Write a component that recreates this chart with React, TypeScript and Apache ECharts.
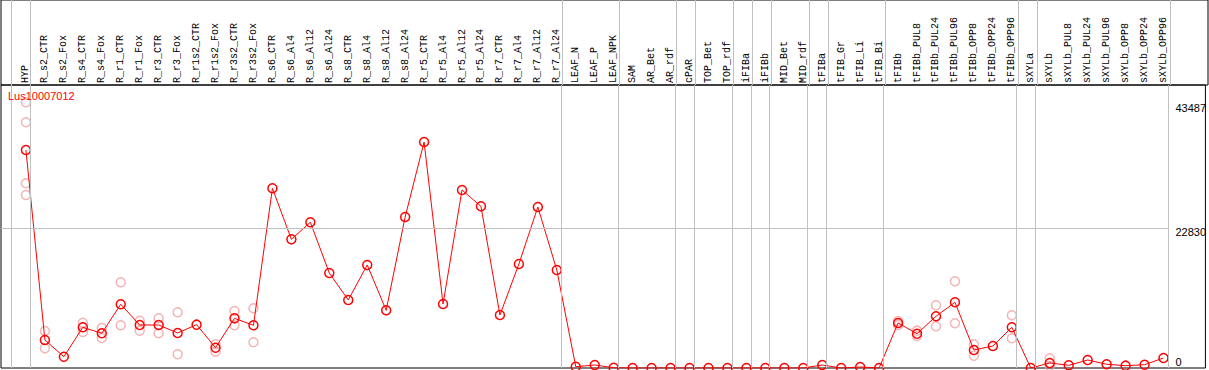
import React, { useEffect, useRef } from "react";
import * as echarts from "echarts";

const geneName = "Lus10007012";

const categories = [
  "HYP", "R_s2_CTR", "R_s2_Fox", "R_s4_CTR", "R_s4_Fox", "R_r1_CTR", "R_r1_Fox", "R_r3_CTR", "R_r3_Fox",
  "R_r1s2_CTR", "R_r1s2_Fox", "R_r3s2_CTR", "R_r3s2_Fox", "R_s6_CTR", "R_s6_Al4", "R_s6_Al12", "R_s6_Al24",
  "R_s8_CTR", "R_s8_Al4", "R_s8_Al12", "R_s8_Al24", "R_r5_CTR", "R_r5_Al4", "R_r5_Al12", "R_r5_Al24",
  "R_r7_CTR", "R_r7_Al4", "R_r7_Al12", "R_r7_Al24", "LEAF_N", "LEAF_P", "LEAF_NPK", "SAM", "AR_Bet", "AR_rdf",
  "cPAR", "TOP_Bet", "TOP_rdf", "iFIBa", "iFIBb", "MID_Bet", "MID_rdf", "tFIBa", "tFIB_Gr", "tFIB_Li", "tFIB_Bi",
  "tFIBb", "tFIBb_PUL8", "tFIBb_PUL24", "tFIBb_PUL96", "tFIBb_OPP8", "tFIBb_OPP24", "tFIBb_OPP96",
  "sXYLa", "sXYLb", "sXYLb_PUL8", "sXYLb_PUL24", "sXYLb_PUL96", "sXYLb_OPP8", "sXYLb_OPP24", "sXYLb_OPP96",
];

const meanValues = [
  35680, 4580, 1850, 6660, 5680, 10430, 7040, 7040, 5730,
  7090, 3320, 8130, 6990, 29410, 21060, 23850, 15550,
  11130, 16860, 9440, 24710, 36990, 10470, 29130, 26460,
  8670, 17020, 26350, 16040, 210, 490, 50, 0, 0, 0,
  0, 0, 0, 0, 0, 0, 0, 490, 0, 160, 0,
  7370, 5610, 8460, 10750, 2950, 3600, 6660,
  0, 820, 440, 1310, 610, 380, 540, 1640,
];

const replicateValues: number[][] = [
  [43487, 40210, 30230, 28310], [6060, 3220], [], [7410, 5890], [6550, 4910], [14030, 6990], [7740, 6110], [8130, 5680], [9120, 2240],
  [], [3880, 2670], [9330, 6990], [9770, 4210], [], [], [], [],
  [], [], [], [], [], [], [], [],
  [], [], [], [], [], [], [], [], [], [],
  [], [], [], [], [], [], [], [], [], [], [],
  [7690, 7040], [6110, 5240], [10260, 6830], [14190, 7320], [3880, 2010], [], [8630, 4860],
  [], [1590, 330], [], [], [], [], [], [],
];

// group separators drawn just after these category indices
const separatorsAfter = [-1, 0, 28, 31, 34, 35, 37, 38, 39, 41, 42, 45, 52, 53, 60];
const yTickLabels = [0, 22830, 43487];
const gridLineValues = [22830];

const X_MIN = -25 / 19;
const X_MAX = 1182 / 19;
const Y_MAX = 46317;
const SEP_OFFSET = 0.23;

export default function App() {
  const ref = useRef<HTMLDivElement>(null);

  useEffect(() => {
    if (!ref.current) return;
    const chart = echarts.init(ref.current, undefined, { renderer: "svg" });

    const sepData = separatorsAfter.map((k) => ({ xAxis: k + SEP_OFFSET }));
    const sepLineStyle = { color: "#c0c0c0", width: 1, type: "solid" as const };
    const lastSep = separatorsAfter[separatorsAfter.length - 1] + SEP_OFFSET;

    const scatterData: number[][] = [];
    replicateValues.forEach((reps, i) => reps.forEach((v) => scatterData.push([i, v])));

    const tickStyle: Record<number, string> = { 0: "lo", 1: "mid", 2: "hi" };

    chart.setOption({
      animation: false,
      backgroundColor: "#fff",
      title: {
        text: geneName,
        left: 8,
        top: 90,
        padding: 0,
        textStyle: { color: "#ff0000", fontSize: 11, fontWeight: "normal", fontFamily: "Liberation Sans" },
      },
      grid: [
        { left: 1, right: 1, top: 0, height: 85, show: true, borderColor: "#000", borderWidth: 1, backgroundColor: "transparent" },
        { left: 1, right: 1, top: 85, bottom: 2, show: true, borderColor: "#000", borderWidth: 1, backgroundColor: "transparent" },
      ],
      xAxis: [
        {
          type: "value", gridIndex: 0, min: X_MIN, max: X_MAX,
          axisLine: { show: false }, axisTick: { show: false }, axisLabel: { show: false }, splitLine: { show: false },
        },
        {
          type: "value", gridIndex: 1, min: X_MIN, max: X_MAX, position: "top",
          axisLine: { show: false }, axisTick: { show: false }, splitLine: { show: false },
          axisLabel: {
            customValues: categories.map((_, i) => i),
            formatter: (v: number) => categories[Math.round(v)] ?? "",
            rotate: 90,
            margin: 2,
            color: "#000",
            fontSize: 10,
            fontFamily: "Liberation Mono",
          },
        },
      ],
      yAxis: [
        {
          type: "value", gridIndex: 0, min: 0, max: 1,
          axisLine: { show: false }, axisTick: { show: false }, axisLabel: { show: false }, splitLine: { show: false },
        },
        {
          type: "value", gridIndex: 1, min: 0, max: Y_MAX, position: "right",
          axisLine: { show: false }, axisTick: { show: false }, splitLine: { show: false },
          axisLabel: {
            inside: true,
            customValues: yTickLabels,
            align: "left",
            margin: 30,
            color: "#000",
            fontSize: 11,
            fontFamily: "Liberation Sans",
            formatter: (v: number) => {
              const idx = yTickLabels.indexOf(v);
              return `{${tickStyle[idx] ?? "mid"}|${v}}`;
            },
            rich: {
              lo: { padding: [0, 0, 12, 0], color: "#000", fontSize: 11, fontFamily: "Liberation Sans" },
              mid: { padding: [6, 0, 0, 0], color: "#000", fontSize: 11, fontFamily: "Liberation Sans" },
              hi: { padding: [11, 0, 0, 0], color: "#000", fontSize: 11, fontFamily: "Liberation Sans" },
            },
          },
        },
      ],
      series: [
        {
          type: "line",
          xAxisIndex: 0,
          yAxisIndex: 0,
          data: [],
          silent: true,
          markLine: {
            silent: true,
            symbol: ["none", "none"],
            label: { show: false },
            lineStyle: sepLineStyle,
            data: sepData,
          },
        },
        {
          type: "scatter",
          xAxisIndex: 1,
          yAxisIndex: 1,
          data: scatterData,
          symbol: "circle",
          symbolSize: 9,
          itemStyle: { color: "rgba(0,0,0,0)", borderColor: "#f2a0a0", borderWidth: 1.5 },
          z: 2,
          markLine: {
            silent: true,
            symbol: ["none", "none"],
            label: { show: false },
            lineStyle: sepLineStyle,
            data: [
              ...sepData,
              ...gridLineValues.map((g) => [{ coord: [X_MIN, g] }, { coord: [lastSep, g] }]),
            ],
          },
        },
        {
          type: "line",
          xAxisIndex: 1,
          yAxisIndex: 1,
          data: meanValues.map((v, i) => [i, v]),
          symbol: "circle",
          symbolSize: 9,
          showAllSymbol: true,
          lineStyle: { color: "#ff0000", width: 1 },
          itemStyle: { color: "rgba(0,0,0,0)", borderColor: "#ff0000", borderWidth: 1.5 },
          z: 3,
        },
      ],
    });

    return () => chart.dispose();
  }, []);

  return (
    <div
      ref={ref}
      style={{ position: "fixed", left: 0, top: 0, width: 1209, height: 370, background: "#fff" }}
    />
  );
}
